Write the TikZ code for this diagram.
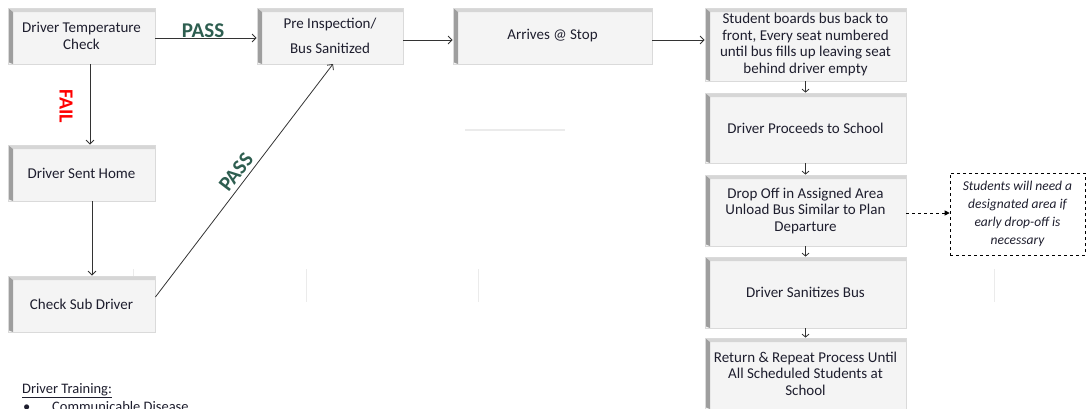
\documentclass[tikz,border=0pt]{standalone}
\usepackage{fontspec}
\setmainfont{Carlito}
\usetikzlibrary{arrows.meta}
\definecolor{boxfill}{HTML}{F4F4F4}
\definecolor{boxline}{HTML}{DADADA}
\definecolor{topgray}{HTML}{D6D6D6}
\definecolor{leftgray}{HTML}{9E9E9E}
\definecolor{txt}{HTML}{1E1E2E}
\definecolor{linec}{HTML}{333333}
\definecolor{passgreen}{HTML}{2E5E50}
\definecolor{faint}{HTML}{EBEBEB}
\tikzset{
  bevbox/.style={rectangle, fill=boxfill, draw=boxline, line width=0.8pt,
    align=center, inner sep=2pt, text=txt,
    font=\fontsize{15}{16.5}\selectfont,
    path picture={
      \fill[topgray] (path picture bounding box.north west) -- (path picture bounding box.north east)
        -- ([yshift=-4pt]path picture bounding box.north east) -- ([shift={(5pt,-4pt)}]path picture bounding box.north west) -- cycle;
      \fill[leftgray] (path picture bounding box.north west) -- ([shift={(5pt,-4pt)}]path picture bounding box.north west)
        -- ([xshift=5pt]path picture bounding box.south west) -- ([yshift=2pt]path picture bounding box.south west) -- cycle;
    }},
  flow/.style={draw=linec, line width=0.8pt, -{Straight Barb[length=4pt,width=8pt]}},
  note/.style={rectangle, draw=black, dashed, line width=0.6pt, align=center, text=txt,
    font=\fontsize{13.5}{18}\selectfont\itshape},
  passlbl/.style={text=passgreen, font=\fontsize{21}{21}\selectfont\bfseries, inner sep=0pt},
  faillbl/.style={text=red, font=\fontsize{20}{20}\selectfont\bfseries, inner sep=0pt},
  plain/.style={anchor=base west, text=txt, font=\fontsize{14.5}{16}\selectfont, inner sep=0pt},
  faintline/.style={draw=faint, line width=1.5pt}
}
\begin{document}
\begin{tikzpicture}[x=1pt,y=-1pt]
\useasboundingbox (0,0) rectangle (1089,408);
% faint background lines
\draw[faintline] (465,130) -- (565,130);
\draw[faintline, line width=1pt] (133,269) -- (133,300);
\draw[faintline, line width=1pt] (306,269) -- (306,302);
\draw[faintline, line width=1pt] (478,269) -- (478,302);
\draw[faintline, line width=1pt] (994,269) -- (994,302);
% boxes
\node[bevbox, minimum width=147pt, minimum height=56pt] (T) at (81.5,36) {Driver Temperature\\Check};
\node[bevbox, minimum width=146pt, minimum height=56pt] (P) at (330,36) {Pre Inspection/\\[8pt]Bus Sanitized};
\node[bevbox, minimum width=199pt, minimum height=56pt] (A) at (552.5,36) {Arrives @ Stop};
\node[bevbox, minimum width=201pt, minimum height=73pt] (S) at (805.5,44.5) {Student boards bus back to\\front, Every seat numbered\\until bus fills up leaving seat\\behind driver empty};
\node[bevbox, minimum width=201pt, minimum height=70pt] (D) at (805.5,128) {Driver Proceeds to School};
\node[bevbox, minimum width=201pt, minimum height=71pt] (O) at (805.5,210.5) {Drop Off in Assigned Area\\Unload Bus Similar to Plan\\Departure};
\node[bevbox, minimum width=201pt, minimum height=71pt] (Z) at (805.5,292.5) {Driver Sanitizes Bus};
\node[bevbox, minimum width=201pt, minimum height=71pt, text depth=0pt] (R) at (805.5,373.5) {Return \& Repeat Process Until\\All Scheduled Students at\\School};
\node[bevbox, minimum width=147pt, minimum height=56pt] (H) at (81.5,173) {Driver Sent Home};
\node[bevbox, minimum width=147pt, minimum height=56pt] (C) at (81.5,304) {Check Sub Driver};
\node[note, minimum width=135pt, minimum height=82pt] (N) at (1017.5,214) {Students will need a\\designated area if\\early drop-off is\\necessary};
% connectors
\draw[flow] (T.east |- 0,38) -- (P.west |- 0,38);
\node[passlbl] (pass1) at (203,31) {PASS};
\draw[flow] (T.south -| 90,0) -- (H.north -| 90,0);
\node[faillbl, rotate=-90] (fail) at (66,106) {FAIL};
\draw[flow] (H.south -| 92,0) -- (C.north -| 92,0);
\coordinate (ctip) at (333,64);
\draw[flow] (C.east |- 0,297) -- (ctip);
\node[passlbl, rotate=52.6] (pass2) at (236,172) {PASS};
\draw[flow] (P.east |- 0,40) -- (A.west |- 0,40);
\draw[flow] (A.east |- 0,40) -- (S.west |- 0,40);
\draw[flow, -{Straight Barb[length=3pt,width=7pt]}] (S.south) -- (D.north);
\draw[flow, -{Straight Barb[length=3pt,width=7pt]}] (D.south) -- (O.north);
\draw[flow, -{Straight Barb[length=3pt,width=7pt]}] (O.south) -- (Z.north);
\draw[flow, -{Straight Barb[length=3pt,width=7pt]}] (Z.south) -- (R.north);
\draw[draw=black, line width=0.8pt, dashed, -{Triangle[length=5pt,width=5pt]}] (O.east |- 0,213) -- (N.west |- 0,213);
% training text
\node[plain] (tr) at (22,393) {\underline{Driver Training:}};
\node[plain] (b1) at (23,411) {\textbullet};
\node[plain] (cd) at (52,411) {Communicable Disease};
\end{tikzpicture}
\end{document}
